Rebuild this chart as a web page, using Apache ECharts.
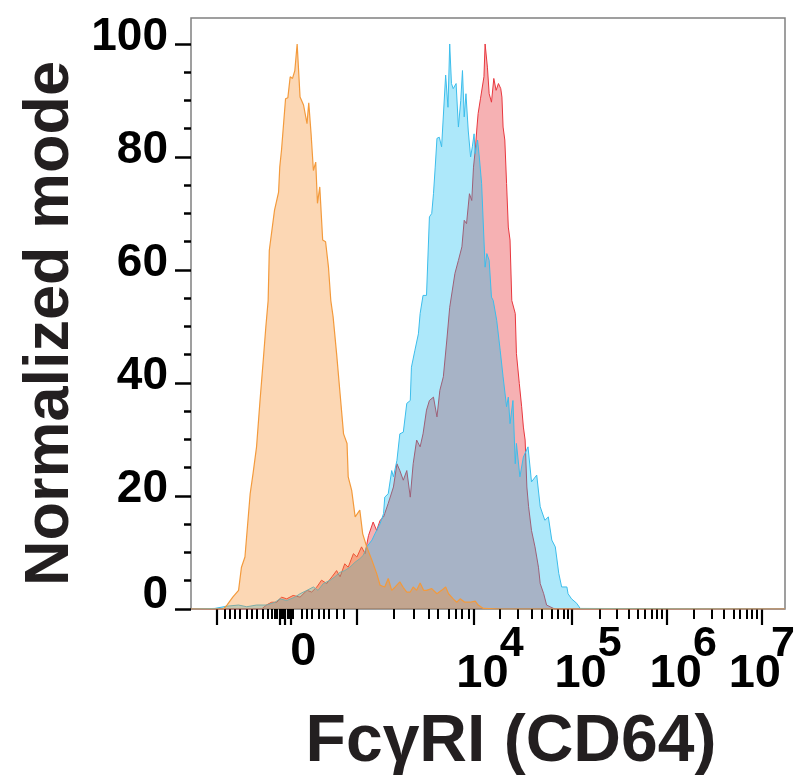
<!DOCTYPE html>
<html><head><meta charset="utf-8">
<script src="https://cdn.jsdelivr.net/npm/echarts@6/dist/echarts.min.js"></script>
<style>html,body{margin:0;padding:0;background:#fff}#c{width:798px;height:781px}</style>
</head><body><div id="c"></div>
<script>
const FONT = '"Liberation Sans", Arial, Helvetica, sans-serif';

// x = display channel on a 0..1024 biexponential scale, y = normalized mode (%)
const redChannels = [0,122,130,139,148,156,165,176,188,200,208,217,225,234,243,251,257,265,271,280,286,294,300,306,314,320,326,332,334,340,349,355,360,366,372,378,383,389,395,400,406,411,418,424,426,429,435,441,446,455,461,467,471,475,480,484,487,490,493,495,499,502,505,507,511,514,518,522,526,530,534,536,538,541,544,547,550,553,559,561,566,570,573,576,579,582,587,593,599,602,608,613,619,625,629,1024];
const redCounts = [0,0,0.7,1.2,1.2,2.1,1.8,2.4,2.1,3.3,3.0,3.9,5.1,4.5,5.7,6.8,5.7,8.0,7.4,9.8,9.2,11.0,9.8,13.0,15.4,13.9,15.7,16.3,16.9,18.7,21.6,25.7,24.5,22.8,24.5,19.8,25.7,29.9,28.7,31.0,35.2,36.9,37.5,34.0,33.7,38.7,41.1,47.6,53.4,59.4,61.7,64.1,68.8,68.2,73.5,72.3,78.2,81.2,85.3,87.7,90.3,90.0,94.2,100,95.9,91.2,89.7,93.9,91.8,93.0,92.1,90.6,85.3,83.0,75.3,67.6,65.3,54.6,52.3,45.2,39.9,35.8,32.2,29.9,21.6,18.1,13.9,11.0,7.4,4.5,2.7,0.7,0.4,0.1,0,0];

const blueChannels = [0,41,62,82,96,113,130,145,153,165,179,188,200,211,219,228,240,248,257,265,274,283,291,297,303,312,317,320,326,332,334,340,346,349,355,360,366,372,378,380,386,392,395,400,406,411,415,418,421,424,428,432,435,439,443,446,449,452,457,461,465,468,471,474,478,482,485,488,490,494,497,501,504,507,510,514,518,521,527,533,538,544,547,550,555,559,561,567,573,581,587,596,602,610,616,622,628,634,639,648,650,656,665,671,674,1024];
const blueCounts = [0,0.1,0.5,0.7,0.4,0.7,0.7,1.2,1.8,1.5,2.1,2.7,3.3,3.9,3.3,4.5,5.1,5.7,6.5,6.8,7.4,8.3,8.9,9.5,11.0,12.2,13.3,13.9,15.1,16.9,19.8,20.4,24.5,23.4,26.3,31.0,31.3,36.4,36.9,42.8,45.8,48.7,52.3,55.5,55.5,69.4,70.0,73.5,78.2,83.3,83.5,81.8,81.8,94.5,88.8,100,93.0,92.1,93.0,85.3,90.0,95.3,87.1,91.2,84.6,80.0,81.8,84.1,80.6,83.0,80.0,75.3,75.6,60.5,62.9,61.7,55.2,54.6,51.1,45.8,41.1,35.8,37.5,32.8,36.9,25.7,29.3,23.4,26.9,28.7,22.5,23.7,18.1,15.7,16.3,12.2,11.0,6.3,3.9,3.9,2.7,1.8,1.0,0.1,0,0];

const orangeChannels = [0,56,62,72,82,87,93,102,107,113,119,125,129,133,135,144,151,153,156,163,167,171,175,179,183,188,194,200,203,207,211,215,218,222,227,232,237,241,245,251,257,263,269,271,277,283,291,296,303,312,320,326,334,340,346,352,360,366,372,378,383,389,395,401,406,415,424,432,439,444,452,458,464,472,481,490,495,504,533,1024];
const orangeCounts = [0,0,0.7,2.1,3.3,7.4,9.2,20.4,24.0,28.7,36.9,44.6,49.9,54.6,63.5,70.6,73.8,78.2,81.2,90.3,90.5,94.2,93.9,95.3,100,90.6,89.2,85.9,89.6,84.1,77.6,79.1,71.8,74.7,65.3,65.0,60.5,54.6,51.7,45.2,38.1,31.0,29.3,23.4,21.0,16.3,17.5,13.3,11.0,8.6,6.3,4.2,3.9,5.4,3.3,3.9,4.8,3.8,3.0,3.0,3.9,3.3,4.6,3.3,3.3,3.6,2.7,3.3,3.9,2.7,1.8,1.2,1.8,1.2,1.2,1.4,0.7,0.1,0,0];

// axis ticks and labels (x in display channels)
const xMajorTicks = [45,153,161,172,286,487,656,820,984];
const xMinorTicks = [59,67,76,84,96,105,113,123,132,140,145,148,155,159,166,169,176,191,200,209,220,228,238,251,264,350,384,409,426,444,456,467,478,533,564,587,605,622,633,642,649,705,734,754,771,783,794,803,811,866,898,918,935,946,958,967,975];
const xLabelValues = [172,487,656,820,984];
const xLabelExponents = ['0','4','5','6','7'];
const yMajorTicks = [0,20,40,60,80,100];
const yMinorTicks = [5,10,15,25,30,35,45,50,55,65,70,75,85,90,95];
const xTitle = 'FcγRI (CD64)';
const yTitle = 'Normalized mode';

function zip(xs, ys) { return xs.map((x, i) => [x, ys[i]]); }

const chart = echarts.init(document.getElementById('c'), null, {renderer: 'canvas', width: 798, height: 781});
const bold = {fontFamily: FONT, fontWeight: 'bold', color: '#000'};

chart.setOption({
  animation: false,
  backgroundColor: '#fff',
  grid: {left: 191, top: 18, right: 13, bottom: 172, show: true, borderColor: '#808080', borderWidth: 1.5,
         containLabel: false, outerBoundsMode: 'none'},
  xAxis: [{
    type: 'value', min: 0, max: 1024, position: 'bottom',
    axisLine: {show: false}, splitLine: {show: false},
    axisTick: {show: true, customValues: xMajorTicks, length: 16, lineStyle: {color: '#000', width: 2.2}},
    axisLabel: {
      show: true, customValues: xLabelValues, margin: 20,
      formatter: function (v) {
        const i = xLabelValues.indexOf(v);
        if (i < 0) return '';
        const e = xLabelExponents[i];
        if (e === '0') return '{z|0}';
        if (i === xLabelValues.length - 1) return '{s|' + e + '}\n{bl|10}';
        return '{s|' + e + '}\n{b|10}';
      },
      rich: {
        z: Object.assign({fontSize: 47, lineHeight: 46, padding: [0, 0, 0, 25]}, bold),
        s: Object.assign({fontSize: 43, lineHeight: 30, align: 'right'}, bold),
        b: Object.assign({fontSize: 47, lineHeight: 30, padding: [0, 15, 0, 33]}, bold),
        bl: Object.assign({fontSize: 47, lineHeight: 30, padding: [0, 14, 0, 0]}, bold)
      }
    },
    name: xTitle, nameLocation: 'middle', nameGap: 101, nameMoveOverlap: false,
    nameTextStyle: {fontFamily: FONT, fontWeight: 'bold', fontSize: 66, lineHeight: 66, color: '#231F20', padding: [0, 0, 0, 46]}
  }, {
    type: 'value', min: 0, max: 1024, position: 'bottom', offset: 0,
    axisLine: {show: false}, splitLine: {show: false}, axisLabel: {show: false},
    axisTick: {show: true, customValues: xMinorTicks, length: 10, lineStyle: {color: '#000', width: 2}}
  }],
  yAxis: [{
    type: 'value', min: 0, max: 104.6, position: 'left',
    axisLine: {show: false}, splitLine: {show: false},
    axisTick: {show: true, customValues: yMajorTicks, length: 16, lineStyle: {color: '#000', width: 2.5}},
    axisLabel: {
      show: true, customValues: yMajorTicks, margin: 23,
      formatter: function (v) {
        if (yMajorTicks.indexOf(v) < 0) return '';
        return v === 0 ? '{z|0}' : '{n|' + v + '}';
      },
      rich: {
        n: Object.assign({fontSize: 46, lineHeight: 45, padding: [0, 0, 14, 0]}, bold),
        z: Object.assign({fontSize: 46, lineHeight: 45, padding: [0, 0, 28, 0]}, bold)
      }
    },
    name: yTitle, nameLocation: 'middle', nameRotate: 90, nameGap: 109, nameMoveOverlap: false,
    nameTextStyle: {fontFamily: FONT, fontWeight: 'bold', fontSize: 63, lineHeight: 63, color: '#231F20', padding: [0, 20, 0, 0]}
  }, {
    type: 'value', min: 0, max: 104.6, position: 'left', offset: 0,
    axisLine: {show: false}, splitLine: {show: false}, axisLabel: {show: false},
    axisTick: {show: true, customValues: yMinorTicks, length: 7, lineStyle: {color: '#000', width: 2.5}}
  }],
  series: [{
    type: 'line', name: 'red', data: zip(redChannels, redCounts), xAxisIndex: 0, yAxisIndex: 0, z: 2,
    showSymbol: false, symbol: 'none', silent: true,
    lineStyle: {color: '#E8373E', width: 1}, itemStyle: {color: '#E8373E'},
    areaStyle: {color: 'rgba(230,40,45,0.36)', opacity: 1}
  }, {
    type: 'line', name: 'blue', data: zip(blueChannels, blueCounts), xAxisIndex: 0, yAxisIndex: 0, z: 3,
    showSymbol: false, symbol: 'none', silent: true,
    lineStyle: {color: '#3CBDEB', width: 1}, itemStyle: {color: '#3CBDEB'},
    areaStyle: {color: 'rgba(0,185,240,0.32)', opacity: 1}
  }, {
    type: 'line', name: 'orange', data: zip(orangeChannels, orangeCounts), xAxisIndex: 0, yAxisIndex: 0, z: 4,
    showSymbol: false, symbol: 'none', silent: true,
    lineStyle: {color: '#F39A3C', width: 1.2}, itemStyle: {color: '#F39A3C'},
    areaStyle: {color: 'rgba(245,140,40,0.35)', opacity: 1}
  }]
});
</script>
</body></html>
